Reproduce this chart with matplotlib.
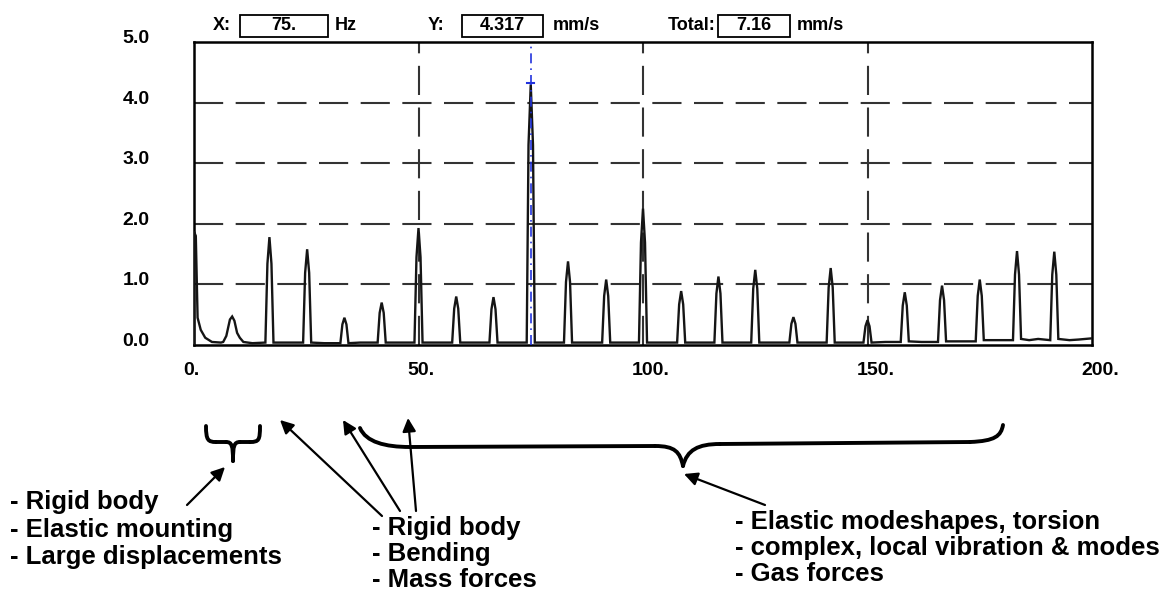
import matplotlib
matplotlib.use("Agg")
import matplotlib.pyplot as plt
from matplotlib.patches import Rectangle, FancyArrowPatch, PathPatch
from matplotlib.path import Path
from matplotlib.transforms import ScaledTranslation

# ---------------- data ----------------
freq = [0.0, 0.0, 0.4, 0.8, 1.5, 2.5, 4.0, 6.0,
        6.5, 7.2, 8.0, 8.5, 9.0, 9.6, 10.2, 11.0, 13.0,
        15.9, 16.35, 16.8, 17.25, 17.7, 21.0,
        24.3, 24.75, 25.2, 25.65, 26.1, 29.0,
        32.6, 33.05, 33.5, 33.95, 34.4, 37.0,
        40.9, 41.35, 41.8, 42.25, 42.7, 46.0,
        49.1, 49.55, 50.0, 50.45, 50.9, 54.0,
        57.5, 57.95, 58.4, 58.85, 59.3, 62.0,
        65.8, 66.25, 66.7, 67.15, 67.6, 71.0,
        74.1, 74.5, 75.0, 75.5, 75.9, 79.0,
        82.4, 82.85, 83.3, 83.75, 84.2, 87.0,
        90.9, 91.35, 91.8, 92.25, 92.7, 96.0,
        99.1, 99.55, 100.0, 100.45, 100.9, 104.0,
        107.6, 108.05, 108.5, 108.95, 109.4, 112.0,
        115.9, 116.35, 116.8, 117.25, 117.7, 121.0,
        124.1, 124.55, 125.0, 125.45, 125.9, 129.0,
        132.6, 133.05, 133.5, 133.95, 134.4, 137.0,
        140.9, 141.35, 141.8, 142.25, 142.7, 146.0,
        149.1, 149.55, 150.0, 150.45, 150.9, 154.0,
        157.4, 157.85, 158.3, 158.75, 159.2, 162.0,
        165.7, 166.15, 166.6, 167.05, 167.5, 171.0,
        174.1, 174.55, 175.0, 175.45, 175.9, 179.0,
        182.4, 182.85, 183.3, 183.75, 184.2, 186.0, 188.0,
        190.7, 191.15, 191.6, 192.05, 192.5, 195.0, 197.0, 200.0]
amp = [0.0, 1.87, 1.80, 0.45, 0.25, 0.12, 0.05, 0.04,
       0.05, 0.15, 0.42, 0.47, 0.40, 0.20, 0.12, 0.05, 0.03,
       0.04, 1.34, 1.78, 1.34, 0.04, 0.04,
       0.04, 1.19, 1.58, 1.19, 0.04, 0.03,
       0.03, 0.34, 0.45, 0.34, 0.03, 0.04,
       0.04, 0.53, 0.70, 0.53, 0.04, 0.04,
       0.04, 1.45, 1.93, 1.45, 0.04, 0.04,
       0.04, 0.60, 0.80, 0.60, 0.04, 0.04,
       0.04, 0.59, 0.79, 0.59, 0.04, 0.04,
       0.04, 3.30, 4.30, 3.30, 0.04, 0.04,
       0.04, 1.04, 1.38, 1.04, 0.04, 0.04,
       0.04, 0.81, 1.08, 0.81, 0.04, 0.04,
       0.04, 1.69, 2.25, 1.69, 0.04, 0.04,
       0.04, 0.67, 0.89, 0.67, 0.04, 0.04,
       0.04, 0.85, 1.13, 0.85, 0.04, 0.04,
       0.04, 0.93, 1.24, 0.93, 0.04, 0.04,
       0.04, 0.35, 0.46, 0.35, 0.04, 0.04,
       0.04, 0.95, 1.27, 0.95, 0.04, 0.04,
       0.04, 0.31, 0.41, 0.31, 0.04, 0.05,
       0.05, 0.65, 0.87, 0.65, 0.06, 0.05,
       0.05, 0.74, 0.98, 0.74, 0.06, 0.06,
       0.06, 0.81, 1.08, 0.81, 0.08, 0.08,
       0.08, 1.16, 1.55, 1.16, 0.10, 0.08, 0.10,
       0.08, 1.16, 1.54, 1.16, 0.10, 0.08, 0.09, 0.11]

cursor_x = 75.0
cursor_y = 4.317
total_val = "7.16"
x_ticks = [0, 50, 100, 150, 200]
x_tick_labels = ["0.", "50.", "100.", "150.", "200."]
y_ticks = [0, 1, 2, 3, 4, 5]
y_tick_labels = ["0.0", "1.0", "2.0", "3.0", "4.0", "5.0"]

block1 = ["- Rigid body", "- Elastic mounting", "- Large displacements"]
block2 = ["- Rigid body", "- Bending", "- Mass forces"]
block3 = ["- Elastic modeshapes, torsion", "- complex, local vibration & modes", "- Gas forces"]

# ---------------- figure ----------------
W, H = 1175, 590
fig = plt.figure(figsize=(W / 100, H / 100), dpi=100)
fig.patch.set_facecolor("white")


def px(x, y):
    return (x / W, 1 - y / H)


L, R, T, B = 194, 1092, 42, 345
ax = fig.add_axes([L / W, 1 - B / H, (R - L) / W, (B - T) / H])
ax.set_xlim(0, 200)
ax.set_ylim(0, 5)

grid_kw = dict(color="#333333", lw=1.5, linestyle=(0, (14, 6)), zorder=1)
for yv in [1, 2, 3, 4]:
    ax.axhline(yv, **grid_kw)
for xv in [50, 100, 150]:
    ax.axvline(xv, **grid_kw)

ax.plot(freq, amp, color="#151515", lw=1.7, zorder=3, solid_joinstyle="miter")

# cursor
ax.axvline(cursor_x, color="#2233dd", lw=1.2, linestyle=(0, (6, 3, 1, 3)), zorder=4)
ax.plot([cursor_x - 0.8, cursor_x + 0.8], [cursor_y, cursor_y], color="#2233dd", lw=1.5, zorder=4)

for s in ax.spines.values():
    s.set_linewidth(1.8)
    s.set_color("black")

tick_font = dict(family=["Liberation Sans", "DejaVu Sans"], weight="bold", size=14)
ax.set_xticks(x_ticks)
ax.set_xticklabels(x_tick_labels, fontdict=tick_font, ha="left")
ax.set_yticks(y_ticks)
ax.set_yticklabels(y_tick_labels, fontdict=tick_font)
ax.tick_params(axis="both", length=0)
ax.tick_params(axis="x", pad=12)
ax.tick_params(axis="y", pad=32)
for lab in ax.get_xticklabels():
    lab.set_transform(lab.get_transform() + ScaledTranslation(-8 / 72, 0, fig.dpi_scale_trans))
for lab in ax.get_yticklabels():
    lab.set_transform(lab.get_transform() + ScaledTranslation(0, 4 / 72, fig.dpi_scale_trans))

# ---------------- header ----------------
hfont = dict(family=["Liberation Sans Narrow", "Liberation Sans", "DejaVu Sans"], weight="bold", size=13)
hy = 25


def box(x0, x1, txt):
    fig.patches.append(Rectangle(px(x0, 37), (x1 - x0) / W, 22 / H, transform=fig.transFigure,
                                 fill=False, edgecolor="black", lw=1.3))
    fig.text(*px((x0 + x1) / 2, hy), txt, ha="center", va="center", **hfont)


fig.text(*px(213, hy), "X:", ha="left", va="center", **hfont)
box(240, 328, f"{cursor_x:.0f}.")
fig.text(*px(335, hy), "Hz", ha="left", va="center", **hfont)
fig.text(*px(428, hy), "Y:", ha="left", va="center", **hfont)
box(462, 543, f"{cursor_y:.3f}")
fig.text(*px(553, hy), "mm/s", ha="left", va="center", **hfont)
fig.text(*px(668, hy), "Total:", ha="left", va="center", **hfont)
box(718, 790, total_val)
fig.text(*px(797, hy), "mm/s", ha="left", va="center", **hfont)

# ---------------- annotations ----------------
afont = dict(family=["Liberation Sans", "DejaVu Sans"], weight="bold", size=18.5)


def block(x, ys, lines):
    for yy, t in zip(ys, lines):
        fig.text(*px(x, yy), t, ha="left", va="center", **afont)


block(10, [502, 530, 557], block1)
block(372, [528, 554, 580], block2)
block(735, [522, 548, 574], block3)


def arrow(x0, y0, x1, y1):
    a = FancyArrowPatch(px(x0, y0), px(x1, y1), transform=fig.transFigure,
                        arrowstyle="-|>,head_length=8,head_width=4", color="black",
                        lw=1.6, shrinkA=0, shrinkB=0)
    fig.patches.append(a)


arrow(187, 505, 225, 467)
arrow(382, 516, 280, 420)
arrow(400, 511, 343, 420)
arrow(416, 511, 408, 418)
arrow(765, 505, 684, 474)


def curve(pts, lw=2.8):
    verts = [px(*p) for p in pts]
    codes = [Path.MOVETO] + [Path.CURVE4] * (len(verts) - 1)
    fig.patches.append(PathPatch(Path(verts, codes), transform=fig.transFigure,
                                 fill=False, edgecolor="black", lw=lw, capstyle="round"))


def poly(pts, lw=2.8):
    verts = [px(*p) for p in pts]
    fig.patches.append(PathPatch(Path(verts), transform=fig.transFigure,
                                 fill=False, edgecolor="black", lw=lw, joinstyle="round",
                                 capstyle="round"))


# small brace
curve([(206, 426), (206, 440), (208, 442), (216, 442)])
poly([(216, 442), (226, 442)])
curve([(226, 442), (232, 442), (233, 446), (233, 461)])
curve([(233, 461), (233, 446), (234, 442), (240, 442)])
poly([(240, 442), (250, 442)])
curve([(250, 442), (259, 442), (260, 440), (260, 426)])

# large brace
curve([(360, 428), (366, 442), (385, 447), (410, 447)])
poly([(410, 447), (655, 446)])
curve([(655, 446), (675, 446), (680, 452), (683, 466)])
curve([(683, 466), (687, 450), (698, 444), (720, 444)])
poly([(720, 444), (970, 442)])
curve([(970, 442), (995, 441), (1001, 436), (1003, 425)])

fig.savefig("out.png", dpi=100, facecolor="white")
